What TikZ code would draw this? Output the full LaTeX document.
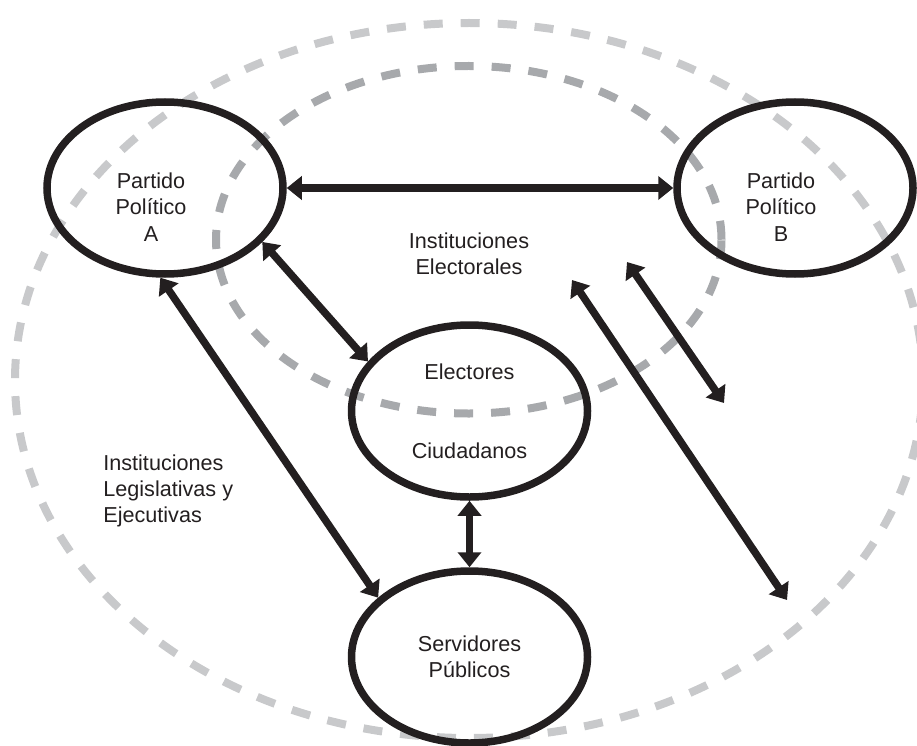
\documentclass[tikz,border=0pt]{standalone}
\usepackage{fontspec}
\setmainfont{Liberation Sans}
\usetikzlibrary{arrows.meta,shapes.geometric}
\definecolor{ink}{HTML}{231F20}
\definecolor{zoneout}{HTML}{C8C9CB}
\definecolor{zonein}{HTML}{A7A9AC}
\begin{document}
\begin{tikzpicture}[
	actor/.style={draw=ink,ellipse,line width=0.15cm,minimum width=4.72cm,minimum height=3.44cm,inner sep=0pt,text=ink,align=center,font=\fontsize{12.3}{15}\selectfont},
	txt/.style={inner sep=0pt,text=ink,font=\fontsize{12.3}{15}\selectfont},
	link/.style={draw=ink,line width=0.15cm,{Triangle[length=0.3cm,width=0.46cm]}-{Triangle[length=0.3cm,width=0.46cm]}},
	zone/.style={line width=0.16cm,dash pattern=on 0.38cm off 0.36cm}]

	\useasboundingbox (0,0) rectangle (18.34,-14.90);

	\draw[zone,zoneout] (9.38,-7.61) ellipse [x radius=9.08,y radius=7.15];
	\draw[zone,zonein] (9.375,-4.795) ellipse [x radius=5.055,y radius=3.475];

	\node[actor] (A) at (3.30,-3.76) {};
	\node[actor] (B) at (15.90,-3.76) {};
	\node[actor] (E) at (9.39,-8.22) {Electores\\[1.06cm]Ciudadanos};
	\node[actor] (S) at (9.39,-13.14) {Servidores\\Públicos};

	\node[txt,align=center,xshift=-0.28cm,yshift=-0.38cm] (Atxt) at (A.center) {Partido\\Político\\A};
	\node[txt,align=center,xshift=-0.28cm,yshift=-0.38cm] (Btxt) at (B.center) {Partido\\Político\\B};
	\node[txt,align=center] (IE) at (9.38,-5.08) {Instituciones\\Electorales};
	\node[txt,align=left,anchor=west] (IL) at (2.06,-9.82) {Instituciones\\Legislativas y\\Ejecutivas};

	\coordinate (f1) at (12.54,-5.24);
	\coordinate (f2) at (14.48,-8.06);
	\coordinate (g1) at (11.44,-5.60);
	\coordinate (g2) at (15.74,-12.00);

	\draw[link] (A.east) -- (B.west);
	\draw[link] (A.-29) -- (E.154);
	\draw[link] (A.-93) -- (S.147);
	\draw[link] (E.south) -- (S.north);
	\draw[link] (f1) -- (f2);
	\draw[link] (g1) -- (g2);
\end{tikzpicture}
\end{document}
